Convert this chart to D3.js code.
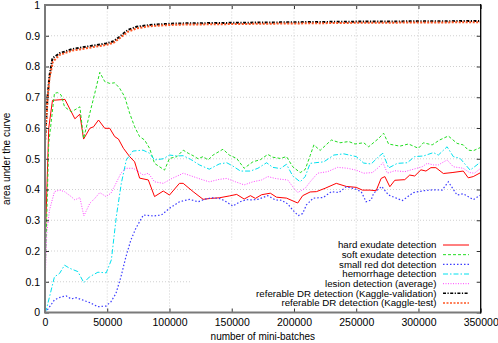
<!DOCTYPE html>
<html>
<head>
<meta charset="utf-8">
<script src="https://cdn.jsdelivr.net/npm/d3@7"></script>
<style>
  body { margin: 0; background: #fff; }
  svg text { font-family: "Liberation Sans", Arial, sans-serif; fill: #000; }
</style>
</head>
<body>
<div id="chart"></div>
<script>
// x values are in thousands of mini-batches
var hardExudate = [[0,0.2],[3,0.6],[6,0.69],[16,0.693],[24,0.63],[28,0.645],[31,0.564],[36,0.599],[39,0.604],[43,0.626],[48,0.599],[52,0.599],[56,0.572],[59,0.564],[63,0.534],[68,0.507],[72,0.49],[76,0.437],[83,0.431],[88,0.377],[95,0.395],[100,0.382],[108,0.42],[111,0.42],[119,0.393],[127,0.368],[133,0.371],[140,0.373],[148,0.379],[154,0.384],[160,0.369],[165,0.38],[169,0.371],[174,0.383],[181,0.388],[186,0.375],[194,0.372],[203,0.356],[207,0.38],[213,0.392],[218,0.393],[225,0.404],[234,0.42],[242,0.41],[250,0.407],[255,0.398],[261,0.398],[266,0.396],[270,0.436],[273,0.442],[277,0.409],[281,0.43],[289,0.432],[293,0.447],[297,0.444],[302,0.464],[306,0.46],[310,0.471],[314,0.471],[320,0.452],[327,0.455],[336,0.46],[340,0.438],[344,0.442],[350,0.455]];
var softExudate = [[0,0.1],[3,0.55],[7.6,0.713],[10.3,0.715],[13,0.707],[15.7,0.669],[21,0.653],[24,0.659],[28,0.669],[31,0.566],[36,0.648],[40,0.713],[44,0.781],[48,0.751],[52,0.745],[56,0.747],[60,0.729],[64,0.702],[68,0.648],[72,0.604],[76,0.572],[80,0.561],[84,0.534],[88,0.485],[92,0.474],[96,0.463],[100,0.501],[106,0.507],[111,0.528],[115,0.518],[119,0.51],[123,0.5],[127,0.507],[131,0.496],[135,0.512],[143,0.531],[148,0.512],[154,0.501],[160,0.469],[167,0.49],[173,0.497],[179,0.514],[183,0.505],[189,0.501],[194,0.507],[199,0.474],[205,0.455],[209,0.465],[213,0.51],[216,0.545],[221,0.527],[230,0.561],[237,0.552],[244,0.556],[249,0.548],[256,0.552],[260,0.539],[268,0.566],[272,0.583],[276,0.548],[285,0.541],[292,0.548],[300,0.534],[304,0.552],[311,0.545],[317,0.561],[324,0.574],[331,0.55],[336,0.545],[340,0.528],[344,0.526],[350,0.537]];
var smallRedDot = [[0,0],[1,0.003],[7.6,0.041],[13,0.051],[17,0.054],[21,0.044],[25,0.048],[30,0.041],[36,0.032],[42.5,0.019],[49,0.021],[53,0.035],[57,0.062],[61,0.116],[65,0.181],[69,0.236],[73,0.274],[79,0.317],[87,0.314],[93.5,0.317],[100,0.339],[108,0.36],[116,0.368],[123,0.36],[128,0.368],[134,0.373],[140,0.371],[144,0.364],[151,0.346],[156.5,0.36],[162,0.367],[166,0.366],[171,0.368],[179,0.38],[185,0.366],[190,0.365],[195,0.353],[199,0.333],[203.5,0.315],[207,0.322],[210,0.35],[215.5,0.372],[223.5,0.374],[230,0.393],[236,0.39],[242,0.409],[249,0.402],[254,0.393],[258,0.36],[262,0.366],[264,0.388],[270.5,0.41],[276,0.382],[287,0.364],[296,0.39],[304,0.396],[312,0.399],[319,0.398],[324,0.425],[331,0.382],[336,0.386],[344,0.367],[350,0.382]];
var hemorrhage = [[0,0],[1,0.008],[7.6,0.116],[11.7,0.127],[15.7,0.154],[19.7,0.144],[26.4,0.133],[31.2,0.097],[35.8,0.116],[42.5,0.131],[49.2,0.129],[53.3,0.171],[57.3,0.312],[61.3,0.42],[65.3,0.496],[70.6,0.525],[78.7,0.528],[84,0.518],[88,0.496],[95,0.5],[100,0.512],[106,0.509],[111,0.51],[117,0.498],[124,0.48],[132,0.466],[140,0.483],[146,0.487],[151,0.476],[157,0.46],[165,0.46],[171,0.469],[178,0.487],[183,0.472],[189,0.468],[194,0.482],[199,0.444],[205,0.425],[209,0.442],[213,0.485],[217,0.487],[224,0.49],[232,0.512],[240,0.516],[250,0.507],[256,0.486],[262,0.483],[268,0.507],[271.5,0.518],[276,0.47],[283,0.485],[291,0.487],[297,0.507],[304,0.509],[312,0.52],[316,0.512],[323,0.539],[328,0.507],[333.5,0.501],[341.5,0.463],[347,0.48],[350,0.49]];
var lesionAverage = [[0,0.08],[1.4,0.257],[3.6,0.333],[7.6,0.393],[11.7,0.398],[15.7,0.393],[21,0.377],[24,0.366],[28,0.374],[31.2,0.314],[36,0.355],[40,0.371],[44,0.39],[49,0.377],[53,0.388],[57,0.42],[61,0.453],[65,0.469],[71,0.469],[75,0.458],[79,0.447],[83,0.453],[88,0.425],[95,0.42],[102,0.436],[108,0.447],[111,0.453],[119,0.442],[127,0.431],[132,0.425],[140,0.433],[146,0.436],[153,0.425],[160,0.415],[167,0.425],[174,0.431],[179,0.442],[185,0.436],[190,0.433],[195,0.431],[199,0.409],[203,0.39],[209,0.404],[213,0.425],[219,0.453],[227,0.458],[235,0.472],[243,0.469],[250,0.463],[256,0.453],[263,0.455],[268,0.472],[271.5,0.487],[275,0.453],[281,0.461],[289,0.458],[296,0.466],[303,0.474],[307,0.485],[312,0.48],[316,0.48],[323,0.496],[328,0.474],[336,0.469],[341,0.455],[345,0.453],[350,0.469]];
var kaggleValidation = [[0,0.56],[2,0.7],[3.6,0.77],[6,0.827],[11.7,0.843],[17,0.85],[22,0.857],[30,0.862],[38.5,0.868],[49,0.875],[55,0.882],[60,0.897],[66.6,0.919],[73.4,0.929],[84,0.935],[95,0.938],[106,0.94],[150,0.942],[200,0.944],[250,0.946],[300,0.947],[350,0.948]];
var kaggleTest = [[0,0.55],[2,0.69],[3.6,0.762],[6.3,0.815],[11.7,0.838],[17,0.845],[22,0.852],[30,0.857],[38.5,0.863],[49,0.87],[55,0.877],[60,0.892],[66.6,0.913],[73.4,0.924],[84,0.931],[95,0.934],[106,0.936],[150,0.938],[200,0.94],[250,0.942],[300,0.943],[350,0.944]];

var seriesNames = ["hard exudate detection", "soft exudate detection", "small red dot detection",
  "hemorrhage detection", "lesion detection (average)",
  "referable DR detection (Kaggle-validation)", "referable DR detection (Kaggle-test)"];
var xTicks = [0, 50, 100, 150, 200, 250, 300, 350];
var yTicks = [0, 0.1, 0.2, 0.3, 0.4, 0.5, 0.6, 0.7, 0.8, 0.9, 1];

var WIDTH = 498, HEIGHT = 343;
var margin = {left: 45, right: 17.3, top: 5, bottom: 30.5};

var styles = [
  {color: "#ff0000", width: 1, dash: null},
  {color: "#22dd22", width: 1, dash: "3,2"},
  {color: "#3c3cff", width: 1.2, dash: "1.5,2"},
  {color: "#00e0ee", width: 1, dash: "5,2,1.5,2"},
  {color: "#ff44ff", width: 1, dash: "1,1.5"},
  {color: "#000000", width: 2, dash: "3,1.5,1.2,1.5"},
  {color: "#ff5522", width: 2, dash: "2,1.5"}
];
var allSeries = [hardExudate, softExudate, smallRedDot, hemorrhage, lesionAverage, kaggleValidation, kaggleTest];

var svg = d3.select("#chart").append("svg")
  .attr("width", WIDTH)
  .attr("height", HEIGHT);

var x = d3.scaleLinear().domain([0, 350]).range([margin.left, WIDTH - margin.right]);
var y = d3.scaleLinear().domain([0, 1]).range([HEIGHT - margin.bottom, margin.top]);

// grid
svg.append("g").selectAll("line.gx")
  .data(xTicks.slice(1, -1)).enter().append("line")
  .attr("x1", d => x(d)).attr("x2", d => x(d))
  .attr("y1", y(0)).attr("y2", y(1))
  .attr("stroke", "#d0d0d0").attr("stroke-dasharray", "1,2");
svg.append("g").selectAll("line.gy")
  .data(yTicks.slice(1, -1)).enter().append("line")
  .attr("x1", x(0)).attr("x2", x(350))
  .attr("y1", d => y(d)).attr("y2", d => y(d))
  .attr("stroke", "#d0d0d0").attr("stroke-dasharray", "1,2");

// curves
var line = d3.line()
  .x(d => x(d[0]))
  .y(d => y(d[1]));

allSeries.forEach(function(s, i) {
  svg.append("path")
    .datum(s)
    .attr("d", line)
    .attr("fill", "none")
    .attr("stroke", styles[i].color)
    .attr("stroke-width", styles[i].width)
    .attr("stroke-dasharray", styles[i].dash);
});

// opaque key box
var keyRight = 436.5;
var keyTop = 245;
var rowH = 9.67;
svg.append("rect")
  .attr("x", 192).attr("y", 240)
  .attr("width", x(350) - 192).attr("height", y(0) - 240)
  .attr("fill", "#fff");

var key = svg.append("g").selectAll("g")
  .data(seriesNames).enter().append("g")
  .attr("transform", (d, i) => "translate(0," + (keyTop + i * rowH) + ")");
key.append("text")
  .attr("x", keyRight)
  .attr("dy", "0.35em")
  .attr("text-anchor", "end")
  .style("font-size", "9.7px")
  .text(d => d);
key.append("line")
  .attr("x1", 443).attr("x2", 469)
  .attr("stroke", (d, i) => styles[i].color)
  .attr("stroke-width", (d, i) => Math.min(styles[i].width, 1.5))
  .attr("stroke-dasharray", (d, i) => styles[i].dash);

// axes (ticks inside, mirrored)
var xAxisB = d3.axisBottom(x).tickValues(xTicks).tickSize(-4).tickPadding(6.5)
  .tickFormat(d => d * 1000);
var xAxisT = d3.axisTop(x).tickValues(xTicks).tickSize(-4).tickFormat("");
var yAxisL = d3.axisLeft(y).tickValues(yTicks).tickSize(-4).tickPadding(5)
  .tickFormat(d3.format("~g"));
var yAxisR = d3.axisRight(y).tickValues(yTicks).tickSize(-4).tickFormat("");

function styleAxis(g) {
  g.select(".domain").remove();
  g.selectAll(".tick line").attr("stroke", "#333");
  g.selectAll("text").style("font-size", "10.5px").attr("fill", "#000")
    .style("font-family", "'Liberation Sans', Arial, sans-serif");
}
svg.append("g").attr("transform", "translate(0," + y(0) + ")").call(xAxisB).call(styleAxis);
svg.append("g").attr("transform", "translate(0," + y(1) + ")").call(xAxisT).call(styleAxis);
svg.append("g").attr("transform", "translate(" + x(0) + ",0)").call(yAxisL).call(styleAxis);
svg.append("g").attr("transform", "translate(" + x(350) + ",0)").call(yAxisR).call(styleAxis);

// border
svg.append("path")
  .attr("d", "M" + x(350) + "," + y(1) + "H" + x(0) + "V" + y(0) + "H" + x(350))
  .attr("fill", "none").attr("stroke", "#7a7a7a").attr("stroke-width", 2);
svg.append("line")
  .attr("x1", x(350)).attr("x2", x(350)).attr("y1", y(1) - 1).attr("y2", y(0) + 1)
  .attr("stroke", "#000").attr("stroke-width", 1.3);

// axis labels
svg.append("text")
  .attr("x", (x(0) + x(350)) / 2).attr("y", 339.5)
  .attr("text-anchor", "middle")
  .style("font-size", "10px")
  .text("number of mini-batches");
svg.append("text")
  .attr("transform", "translate(10," + ((y(0) + y(1)) / 2) + ") rotate(-90)")
  .attr("text-anchor", "middle")
  .style("font-size", "10px")
  .text("area under the curve");
</script>
</body>
</html>
